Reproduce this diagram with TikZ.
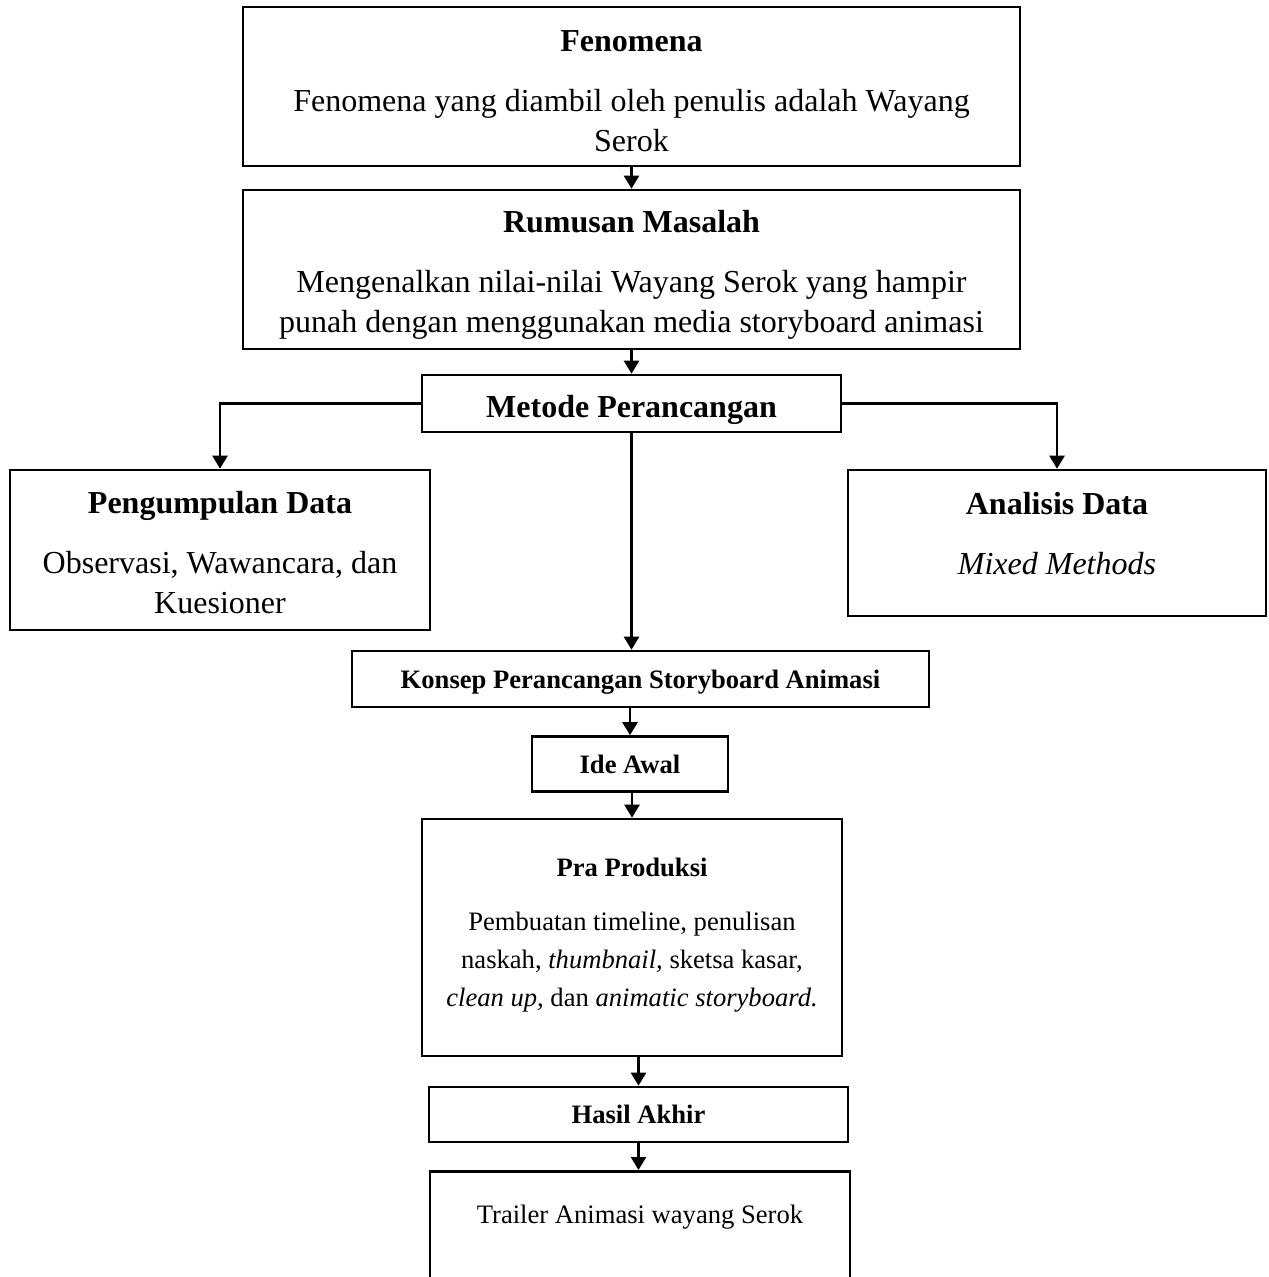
\documentclass[tikz,border=0pt]{standalone}
\usepackage{fontspec}
\setmainfont{Liberation Serif}
\usetikzlibrary{arrows.meta}
\usetikzlibrary{shapes}

\begin{document}
\begin{tikzpicture}[x=0.5pt, y=-0.5pt]

\tikzstyle{bigbox}=[rectangle, draw=black, line width=1.3pt, align=center, inner sep=2pt, font=\fontsize{16}{20}\selectfont]
\tikzstyle{smallbox}=[rectangle, draw=black, line width=1.3pt, align=center, inner sep=2pt, font=\fontsize{13.3}{19}\selectfont]
\tikzstyle{connect}=[-{Triangle[length=6.5pt, width=7.5pt]}, line width=1.2pt]

\useasboundingbox (0,0) rectangle (1268,1277);


\node[bigbox, minimum width=388.5pt, minimum height=79.5pt] (fen) at (631.5,86.5)
  {\mbox{}\\[-4.4pt]{\bfseries Fenomena}\\[10pt]Fenomena yang diambil oleh penulis adalah Wayang\\Serok};

\node[bigbox, minimum width=388.5pt, minimum height=79.5pt] (rum) at (631.5,269.5)
  {\mbox{}\\[-3.2pt]{\bfseries Rumusan Masalah}\\[10pt]Mengenalkan nilai-nilai Wayang Serok yang hampir\\punah dengan menggunakan media storyboard animasi};

\node[bigbox, minimum width=209.5pt, minimum height=28.5pt, text height=14.5pt, text depth=0pt] (met) at (631.5,403.5)
  {\bfseries Metode Perancangan};



\node[bigbox, minimum width=210pt, minimum height=80pt] (pen) at (220,550)
  {\mbox{}\\[-6.2pt]{\bfseries Pengumpulan Data}\\[10pt]Observasi, Wawancara, dan\\Kuesioner};

\node[bigbox, minimum width=209pt, minimum height=73pt] (ana) at (1057,543)
  {{\bfseries Analisis Data}\\[10pt]\textit{Mixed Methods}\\[-10pt]\mbox{}};



\node[smallbox, minimum width=288.5pt, minimum height=28pt, text height=9.1pt, text depth=0pt] (kon) at (640.5,679)
  {\bfseries Konsep Perancangan Storyboard Animasi};

\node[smallbox, minimum width=98pt, minimum height=27.5pt] (ide) at (630,764)
  {\bfseries Ide Awal};

\node[smallbox, minimum width=210pt, minimum height=118.5pt] (pra) at (632,937.5)
  {{\bfseries Pra Produksi}\\[8pt]Pembuatan timeline, penulisan\\naskah, \textit{thumbnail,} sketsa kasar,\\\textit{clean up,} dan \textit{animatic storyboard.}\\[-14pt]\mbox{}};

\node[smallbox, minimum width=209.5pt, minimum height=27.5pt] (has) at (638.5,1114.5)
  {\bfseries Hasil Akhir};

\node[smallbox, anchor=north, minimum width=210pt, minimum height=62pt, text depth=19pt] (tra) at (640,1170)
  {Trailer Animasi wayang Serok};



\draw[connect] (fen) -- (rum);
\draw[connect] (rum) -- (met);

\draw[connect] (met.west) -| (pen.north);
\draw[connect] (met.east) -| (ana.north);
\draw[connect] (met.south) -- (met.south |- kon.north);

\draw[connect] (kon.south -| ide.north) -- (ide.north);
\draw[connect] (pra.north |- ide.south) -- (pra.north);
\draw[connect] (has.north |- pra.south) -- (has.north);
\draw[connect] (has.south) -- (has.south |- tra.north);


\end{tikzpicture}
\end{document}
